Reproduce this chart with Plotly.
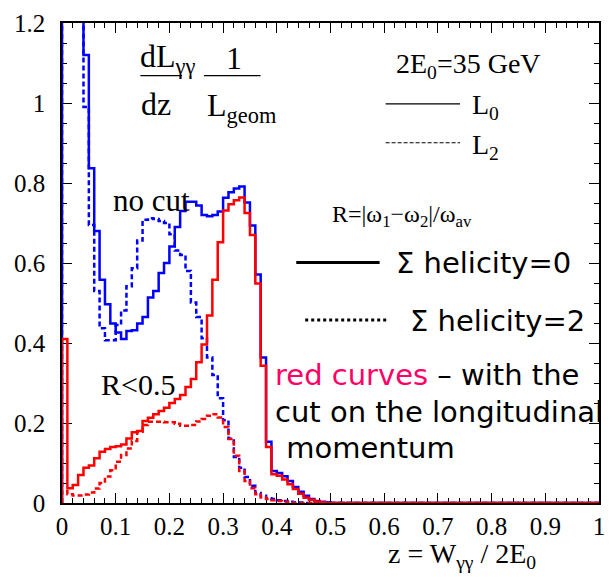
import numpy as np
import plotly.graph_objects as go

# Bin edges in z = W_gg / 2E0 (bin width 0.01)
edges = np.round(np.linspace(0.0, 1.0, 101), 2)

def pad(vals):
    return list(vals) + [0.0] * (100 - len(vals))

# dL/dz / L_geom, no cut, sum helicity = 0 (first bins run off scale)
nocut_L0 = pad([3.2, 2.4, 1.8, 1.4, 1.12, 0.837, 0.68, 0.558, 0.497, 0.449,
                0.426, 0.41, 0.43, 0.432, 0.449, 0.465, 0.514, 0.53, 0.575, 0.60,
                0.641, 0.69, 0.73, 0.753, 0.753, 0.744, 0.72, 0.717, 0.72, 0.729,
                0.763, 0.777, 0.786, 0.791, 0.751, 0.694, 0.571, 0.364, 0.153, 0.08,
                0.075, 0.067, 0.055, 0.04, 0.028, 0.018, 0.01, 0.005, 0.003, 0.002])

# no cut, sum helicity = 2
nocut_L2 = pad([3.0, 2.2, 1.7, 1.3, 0.99, 0.695, 0.53, 0.437, 0.407, 0.407,
                0.445, 0.481, 0.542, 0.587, 0.656, 0.708, 0.712, 0.71, 0.705, 0.70,
                0.672, 0.631, 0.62, 0.58, 0.501, 0.465, 0.412, 0.364, 0.32, 0.262,
                0.207, 0.161, 0.115, 0.088, 0.065, 0.043, 0.025, 0.018, 0.012, 0.01,
                0.007, 0.005, 0.003, 0.002, 0.001])

# R < 0.5, sum helicity = 0
cut_L0 = pad([0.41, 0.037, 0.045, 0.07, 0.088, 0.094, 0.112, 0.128, 0.135, 0.14,
              0.142, 0.146, 0.161, 0.177, 0.18, 0.205, 0.213, 0.222, 0.23, 0.238,
              0.25, 0.26, 0.27, 0.29, 0.31, 0.352, 0.396, 0.469, 0.558, 0.652,
              0.731, 0.747, 0.757, 0.764, 0.725, 0.67, 0.549, 0.343, 0.14, 0.072,
              0.068, 0.059, 0.047, 0.035, 0.023, 0.013, 0.008, 0.004, 0.002])

# R < 0.5, sum helicity = 2
cut_L2 = pad([0.03, 0.022, 0.019, 0.019, 0.021, 0.026, 0.036, 0.05, 0.066, 0.082,
              0.103, 0.12, 0.136, 0.155, 0.178, 0.195, 0.203, 0.203, 0.203, 0.202,
              0.202, 0.198, 0.193, 0.193, 0.195, 0.204, 0.21, 0.218, 0.222, 0.214,
              0.19, 0.16, 0.118, 0.08, 0.055, 0.037, 0.022, 0.014, 0.01, 0.007,
              0.005, 0.003, 0.002])

x_ticks = [0.0, 0.1, 0.2, 0.3, 0.4, 0.5, 0.6, 0.7, 0.8, 0.9, 1.0]
x_tick_text = ["0", "0.1", "0.2", "0.3", "0.4", "0.5", "0.6", "0.7", "0.8", "0.9", "1"]
y_ticks = [0.0, 0.2, 0.4, 0.6, 0.8, 1.0, 1.2]
y_tick_text = ["0", "0.2", "0.4", "0.6", "0.8", "1", "1.2"]

BLUE = "#0000ff"
RED = "#ff0000"
SERIF = "Liberation Serif"
SANS = "DejaVu Sans"

W, H = 615, 577
ML, MR, MT, MB = 62, 12, 10, 74


def step(vals):
    xs = [0.0] + list(edges[:-1]) + [1.0]
    ys = [0.0] + list(vals) + [vals[-1]]
    return xs, ys


def to_paper(px, py):
    return (px - ML) / (W - ML - MR), (H - MB - py) / (H - MT - MB)


fig = go.Figure()
for vals, color, dash in [(nocut_L0, BLUE, "solid"), (nocut_L2, BLUE, "5px,3px"),
                          (cut_L0, RED, "solid"), (cut_L2, RED, "5px,3px")]:
    xs, ys = step(vals)
    fig.add_trace(go.Scatter(x=xs, y=ys, mode="lines", line_shape="hv",
                             line=dict(color=color, width=2.5, dash=dash),
                             hoverinfo="skip", showlegend=False))

annotations = []


def text(px, py, s, size, family=SERIF, color="black", xanchor="left"):
    x, y = to_paper(px, py)
    annotations.append(dict(x=x, y=y, xref="paper", yref="paper", text=s,
                            showarrow=False, xanchor=xanchor, yanchor="middle",
                            font=dict(family=family, size=size, color=color)))


shapes = []


def hline(px0, px1, py, width, dash="solid"):
    x0, y = to_paper(px0, py)
    x1, _ = to_paper(px1, py)
    shapes.append(dict(type="line", xref="paper", yref="paper", x0=x0, x1=x1,
                       y0=y, y1=y, line=dict(color="black", width=width, dash=dash)))


# luminosity fraction label
text(139, 46, "dL<sub>γγ</sub>", 32)
text(225, 46, "1", 32)
hline(141, 183, 64, 1.4)
hline(205, 262, 64, 1.4)
text(140, 93, "dz", 32)
text(206, 97, "L<sub>geom</sub>", 32)

text(396, 54, "2E<sub>0</sub>=35 GeV", 28)
hline(388, 463, 93, 1.2)
text(473, 96, "L<sub>0</sub>", 28)
hline(388, 463, 133, 1.2, "4px,2px")
text(473, 137, "L<sub>2</sub>", 28)

text(332, 208, "R=|ω<sub>1</sub>−ω<sub>2</sub>|/ω<sub>av</sub>", 24)
hline(298, 382, 256, 3.2)
text(396, 256, "Σ helicity=0", 29, SANS)
hline(307, 391, 315, 3, "dot")
text(411, 316, "Σ helicity=2", 29, SANS)

text(275, 372, "<span style='color:#ff0066'>red curves</span> – with the", 29, SANS)
text(275, 410, "cut on the longitudinal", 29, SANS)
text(277, 447, " momentum", 29, SANS)

text(111, 192, "no cut", 31)
text(99, 381, "R&lt;0.5", 30)

text(388, 557, "z = W<sub>γγ</sub> / 2E<sub>0</sub>", 28)

axis_common = dict(showline=True, linecolor="black", linewidth=1.5, mirror="ticks",
                   ticks="inside", tickcolor="black", tickwidth=1.3, ticklen=10,
                   showgrid=False, zeroline=False, layer="below traces",
                   ticklabeloverflow="allow",
                   tickfont=dict(family=SERIF, size=25, color="black"))

fig.update_layout(
    width=W, height=H,
    margin=dict(l=ML, r=MR, t=MT, b=MB),
    paper_bgcolor="white", plot_bgcolor="white",
    xaxis=dict(range=[0, 1], tickvals=x_ticks, ticktext=x_tick_text,
               minor=dict(dtick=0.02, ticks="inside", ticklen=5, tickcolor="black",
                          tickwidth=1.2),
               **axis_common),
    yaxis=dict(range=[0, 1.2], tickvals=y_ticks, ticktext=y_tick_text,
               minor=dict(dtick=0.05, ticks="inside", ticklen=5, tickcolor="black",
                          tickwidth=1.2),
               ticklabelstandoff=10,
               **axis_common),
    annotations=annotations,
    shapes=shapes,
)

fig.write_html("out.html")
